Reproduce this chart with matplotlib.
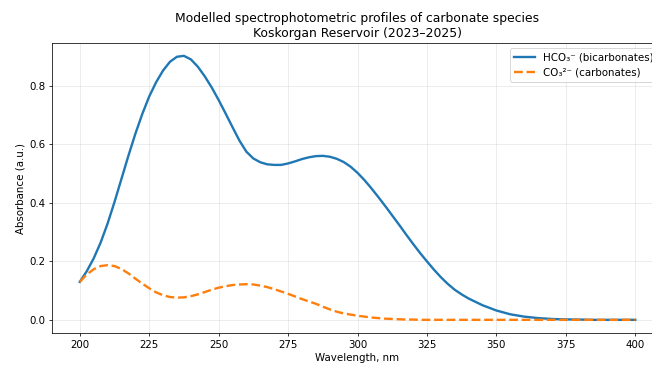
import matplotlib
matplotlib.use("Agg")
import matplotlib.pyplot as plt

# --- Data (wavelength in nm, absorbance in a.u.) ---
wavelength = [200, 202.5, 205, 207.5, 210, 212.5, 215, 217.5, 220, 222.5,
              225, 227.5, 230, 232.5, 235, 237.5, 240, 242.5, 245, 247.5,
              250, 252.5, 255, 257.5, 260, 262.5, 265, 267.5, 270, 272.5,
              275, 277.5, 280, 282.5, 285, 287.5, 290, 292.5, 295, 297.5,
              300, 302.5, 305, 307.5, 310, 312.5, 315, 317.5, 320, 322.5,
              325, 327.5, 330, 332.5, 335, 337.5, 340, 345, 350, 355,
              360, 365, 370, 375, 380, 385, 390, 395, 400]

hco3 = [0.130, 0.166, 0.210, 0.264, 0.329, 0.403, 0.482, 0.561, 0.636, 0.704,
        0.764, 0.813, 0.853, 0.883, 0.900, 0.903, 0.891, 0.866, 0.833, 0.795,
        0.752, 0.706, 0.659, 0.613, 0.575, 0.552, 0.539, 0.532, 0.530, 0.530,
        0.535, 0.542, 0.550, 0.556, 0.560, 0.561, 0.558, 0.551, 0.540, 0.524,
        0.503, 0.478, 0.450, 0.420, 0.389, 0.357, 0.325, 0.292, 0.260, 0.229,
        0.200, 0.172, 0.146, 0.123, 0.103, 0.087, 0.073, 0.050, 0.032, 0.019,
        0.011, 0.006, 0.003, 0.0015, 0.001, 0.000, 0.000, 0.000, 0.000]

co3 = [0.130, 0.155, 0.173, 0.184, 0.187, 0.184, 0.174, 0.159, 0.141, 0.124,
       0.108, 0.094, 0.084, 0.078, 0.076, 0.077, 0.081, 0.087, 0.095, 0.103,
       0.110, 0.115, 0.119, 0.121, 0.122, 0.121, 0.117, 0.112, 0.105, 0.097,
       0.089, 0.080, 0.071, 0.063, 0.055, 0.045, 0.036, 0.028, 0.022, 0.018,
       0.014, 0.011, 0.008, 0.006, 0.004, 0.003, 0.002, 0.001, 0.001, 0.000,
       0.000, 0.000, 0.000, 0.000, 0.000, 0.000, 0.000, 0.000, 0.000, 0.000,
       0.000, 0.000, 0.000, 0.000, 0.000, 0.000, 0.000, 0.000, 0.000]

xticks = [200, 225, 250, 275, 300, 325, 350, 375, 400]
yticks = [0.0, 0.2, 0.4, 0.6, 0.8]

plt.rcParams["font.size"] = 10.9

dpi = 68
fig = plt.figure(figsize=(652 / dpi, 366 / dpi), dpi=dpi)
# axes run slightly past the right edge, as in the reference
ax = fig.add_axes([52 / 652, 33 / 366, 611 / 652, 290 / 366])

ax.plot(wavelength, hco3, color="#1f77b4", lw=2.5, label="HCO₃⁻ (bicarbonates)")
ax.plot(wavelength, co3, color="#ff7f0e", lw=2.5, ls="--", label="CO₃²⁻ (carbonates)")

ax.set_xticks(xticks)
ax.set_yticks(yticks)
ax.set_xlim(190, 410)
ax.set_ylim(-0.045, 0.947)
ax.grid(True, alpha=0.3)

ax.set_title("Modelled spectrophotometric profiles of carbonate species\nKoskorgan Reservoir (2023–2025)")
ax.set_xlabel("Wavelength, nm")
ax.set_ylabel("Absorbance (a.u.)")
ax.legend(loc="upper right")

fig.savefig("out.png", dpi=dpi)
